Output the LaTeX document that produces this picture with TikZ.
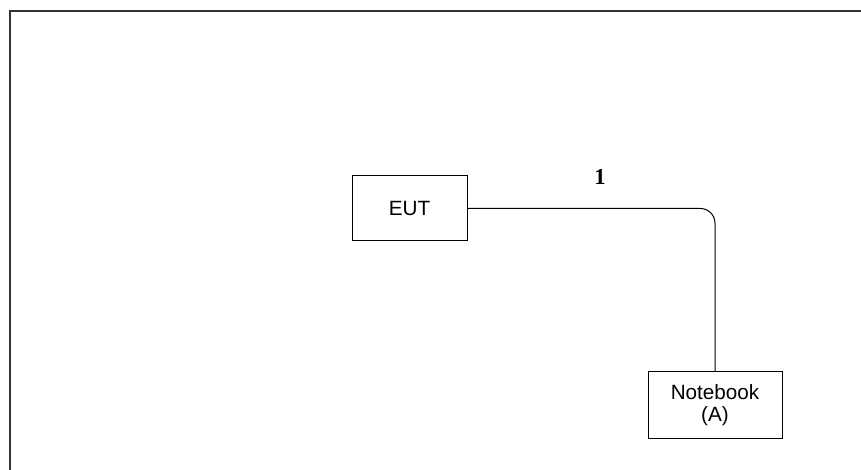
\documentclass[tikz,border=0pt]{standalone}
\usepackage{fontspec}
\setmainfont{Liberation Sans}
\newfontfamily\serifnum{Liberation Serif}
\usetikzlibrary{calc}

\tikzset{
  unit/.style={draw, line width=0.75, fill=white, align=center, inner sep=0.75pt,
    font=\fontsize{15.5}{16.5}\selectfont},
  cable/.style={line width=0.75, rounded corners=11pt},
}

\begin{document}
\begin{tikzpicture}[x=0.75pt,y=0.75pt,yscale=-1,xscale=1]
\useasboundingbox (0,0) rectangle (861,470);

%Frame
\draw [color={rgb, 255:red, 51; green, 51; blue, 51 }, line width=1.5] (10,470) -- (10,11) -- (861,11) ;

% Units
\node [unit, minimum width=86.25pt, minimum height=48.75pt] (eut) at (409.5,208.5) {EUT};
\node [unit, minimum width=100.5pt, minimum height=50.25pt] (nb) at (715,405.5) {Notebook\\(A)};

% Cable
\draw [cable] (eut.east) -- (eut.east -| nb.north) -- (nb.north) ;

% Text Node
\node [inner sep=0.75pt, font=\serifnum\bfseries\fontsize{17}{18}\selectfont] (c1) at (600,177) {1};

\end{tikzpicture}
\end{document}
